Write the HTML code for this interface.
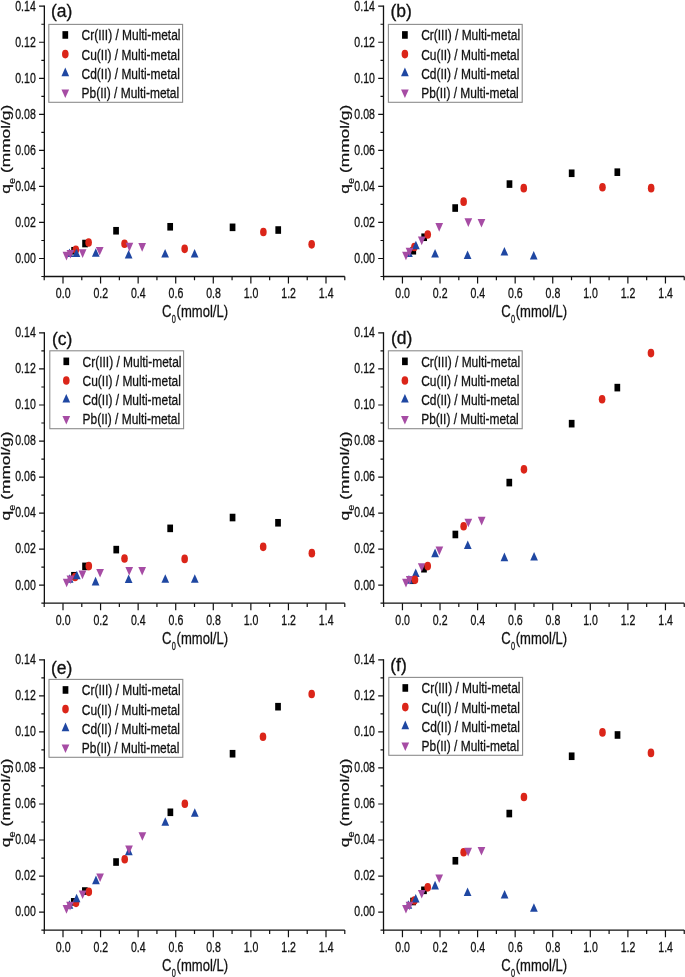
<!DOCTYPE html>
<html><head><meta charset="utf-8"><style>
html,body{margin:0;padding:0;background:#fff;overflow:hidden}
svg{display:block;will-change:transform;filter:blur(0.3px)}
text{font-family:"Liberation Sans",sans-serif;fill:#111;stroke:#111;stroke-width:0.3px}
</style></head><body>
<svg width="685" height="977" viewBox="0 0 685 977">
<rect width="685" height="977" fill="#fff"/>
<path d="M44.35 5.62V276.52H344.79" fill="none" stroke="#111" stroke-width="1.3"/>
<path d="M41.35 276.52H44.35M39.05 258.50H44.35M41.35 240.48H44.35M39.05 222.46H44.35M41.35 204.44H44.35M39.05 186.42H44.35M41.35 168.40H44.35M39.05 150.38H44.35M41.35 132.36H44.35M39.05 114.34H44.35M41.35 96.32H44.35M39.05 78.30H44.35M41.35 60.28H44.35M39.05 42.26H44.35M41.35 24.24H44.35M39.05 6.22H44.35M44.21 276.52V280.32M63.00 276.52V283.62M81.79 276.52V280.32M100.57 276.52V283.62M119.36 276.52V280.32M138.14 276.52V283.62M156.93 276.52V280.32M175.72 276.52V283.62M194.50 276.52V280.32M213.29 276.52V283.62M232.07 276.52V280.32M250.86 276.52V283.62M269.65 276.52V280.32M288.43 276.52V283.62M307.22 276.52V280.32M326.00 276.52V283.62M344.79 276.52V280.32" fill="none" stroke="#111" stroke-width="1.2"/>
<g transform="translate(0.00,0.00)">
<text transform="translate(35.80,262.80) scale(0.705,1)" font-size="15" text-anchor="end">0.00</text>
<text transform="translate(35.80,226.76) scale(0.705,1)" font-size="15" text-anchor="end">0.02</text>
<text transform="translate(35.80,190.72) scale(0.705,1)" font-size="15" text-anchor="end">0.04</text>
<text transform="translate(35.80,154.68) scale(0.705,1)" font-size="15" text-anchor="end">0.06</text>
<text transform="translate(35.80,118.64) scale(0.705,1)" font-size="15" text-anchor="end">0.08</text>
<text transform="translate(35.80,82.60) scale(0.705,1)" font-size="15" text-anchor="end">0.10</text>
<text transform="translate(35.80,46.56) scale(0.705,1)" font-size="15" text-anchor="end">0.12</text>
<text transform="translate(35.80,10.52) scale(0.705,1)" font-size="15" text-anchor="end">0.14</text>
<text transform="translate(63.20,298.30) scale(0.705,1)" font-size="15" text-anchor="middle">0.0</text>
<text transform="translate(100.77,298.30) scale(0.705,1)" font-size="15" text-anchor="middle">0.2</text>
<text transform="translate(138.34,298.30) scale(0.705,1)" font-size="15" text-anchor="middle">0.4</text>
<text transform="translate(175.92,298.30) scale(0.705,1)" font-size="15" text-anchor="middle">0.6</text>
<text transform="translate(213.49,298.30) scale(0.705,1)" font-size="15" text-anchor="middle">0.8</text>
<text transform="translate(251.06,298.30) scale(0.705,1)" font-size="15" text-anchor="middle">1.0</text>
<text transform="translate(288.63,298.30) scale(0.705,1)" font-size="15" text-anchor="middle">1.2</text>
<text transform="translate(326.20,298.30) scale(0.705,1)" font-size="15" text-anchor="middle">1.4</text>
<text transform="translate(162.00,316.90) scale(0.75,1)" font-size="17.4">C</text>
<text transform="translate(171.80,323.20) scale(0.7,1)" font-size="10.5">0</text>
<text transform="translate(176.60,316.90) scale(0.75,1)" font-size="17.4">(mmol/L)</text>
<text transform="translate(9.6,193.7) rotate(-90) scale(1,0.74)" font-size="17.5">q</text>
<text transform="translate(14.5,184.0) rotate(-90) scale(1,0.74)" font-size="11">e</text>
<text transform="translate(9.6,173.0) rotate(-90) scale(1,0.74)" font-size="17.3">(mmol/g)</text>
</g>
<text transform="translate(51.00,16.80) scale(1.0,1)" font-size="17.5">(a)</text>
<g transform="translate(0,0)">
<rect x="48.8" y="24.4" width="133.8" height="77.9" fill="#fff" stroke="#8c8c8c" stroke-width="1.1"/>
<rect x="62.45" y="31.15" width="5.7" height="7.6" fill="#000"/>
<text transform="translate(81.60,40.45) scale(0.797,1)" font-size="15">Cr(III) / Multi-metal</text>
<ellipse cx="65.30" cy="54.10" rx="3.3" ry="4.3" fill="#db2519"/>
<text transform="translate(81.60,59.60) scale(0.797,1)" font-size="15">Cu(II) / Multi-metal</text>
<path d="M65.30 67.55L69.15 76.15L61.45 76.15Z" fill="#1f47a2"/>
<text transform="translate(81.60,78.75) scale(0.797,1)" font-size="15">Cd(II) / Multi-metal</text>
<path d="M61.45 89.50L69.15 89.50L65.30 98.10Z" fill="#a64ca4"/>
<text transform="translate(81.60,97.90) scale(0.797,1)" font-size="15">Pb(II) / Multi-metal</text>
</g>
<rect x="71.26" y="246.95" width="5.7" height="7.6" fill="#000"/>
<rect x="82.21" y="239.74" width="5.7" height="7.6" fill="#000"/>
<rect x="113.21" y="226.95" width="5.7" height="7.6" fill="#000"/>
<rect x="167.33" y="222.98" width="5.7" height="7.6" fill="#000"/>
<rect x="229.71" y="223.53" width="5.7" height="7.6" fill="#000"/>
<rect x="275.37" y="226.23" width="5.7" height="7.6" fill="#000"/>
<ellipse cx="75.85" cy="249.77" rx="3.3" ry="4.3" fill="#db2519"/>
<ellipse cx="88.63" cy="242.56" rx="3.3" ry="4.3" fill="#db2519"/>
<ellipse cx="124.52" cy="243.82" rx="3.3" ry="4.3" fill="#db2519"/>
<ellipse cx="184.65" cy="248.87" rx="3.3" ry="4.3" fill="#db2519"/>
<ellipse cx="263.38" cy="231.93" rx="3.3" ry="4.3" fill="#db2519"/>
<ellipse cx="311.67" cy="244.36" rx="3.3" ry="4.3" fill="#db2519"/>
<path d="M69.46 248.43L73.31 257.03L65.61 257.03Z" fill="#1f47a2"/>
<path d="M76.42 248.43L80.27 257.03L72.57 257.03Z" fill="#1f47a2"/>
<path d="M95.77 248.25L99.62 256.85L91.92 256.85Z" fill="#1f47a2"/>
<path d="M128.65 249.88L132.50 258.48L124.80 258.48Z" fill="#1f47a2"/>
<path d="M165.11 248.97L168.96 257.57L161.26 257.57Z" fill="#1f47a2"/>
<path d="M194.61 248.97L198.46 257.57L190.76 257.57Z" fill="#1f47a2"/>
<path d="M62.61 251.86L70.31 251.86L66.46 260.46Z" fill="#a64ca4"/>
<path d="M66.55 249.88L74.25 249.88L70.40 258.48Z" fill="#a64ca4"/>
<path d="M78.77 249.33L86.47 249.33L82.62 257.93Z" fill="#a64ca4"/>
<path d="M95.87 246.99L103.57 246.99L99.72 255.59Z" fill="#a64ca4"/>
<path d="M125.55 242.85L133.25 242.85L129.40 251.45Z" fill="#a64ca4"/>
<path d="M138.33 243.03L146.03 243.03L142.18 251.63Z" fill="#a64ca4"/>
<path d="M383.5 5.62V276.52H684.24" fill="none" stroke="#111" stroke-width="1.3"/>
<path d="M380.50 276.52H383.5M378.20 258.50H383.5M380.50 240.48H383.5M378.20 222.46H383.5M380.50 204.44H383.5M378.20 186.42H383.5M380.50 168.40H383.5M378.20 150.38H383.5M380.50 132.36H383.5M378.20 114.34H383.5M380.50 96.32H383.5M378.20 78.30H383.5M380.50 60.28H383.5M378.20 42.26H383.5M380.50 24.24H383.5M378.20 6.22H383.5M383.66 276.52V280.32M402.45 276.52V283.62M421.24 276.52V280.32M440.02 276.52V283.62M458.81 276.52V280.32M477.59 276.52V283.62M496.38 276.52V280.32M515.17 276.52V283.62M533.95 276.52V280.32M552.74 276.52V283.62M571.52 276.52V280.32M590.31 276.52V283.62M609.10 276.52V280.32M627.88 276.52V283.62M646.67 276.52V280.32M665.45 276.52V283.62M684.24 276.52V280.32" fill="none" stroke="#111" stroke-width="1.2"/>
<g transform="translate(339.15,0.00)">
<text transform="translate(35.80,262.80) scale(0.705,1)" font-size="15" text-anchor="end">0.00</text>
<text transform="translate(35.80,226.76) scale(0.705,1)" font-size="15" text-anchor="end">0.02</text>
<text transform="translate(35.80,190.72) scale(0.705,1)" font-size="15" text-anchor="end">0.04</text>
<text transform="translate(35.80,154.68) scale(0.705,1)" font-size="15" text-anchor="end">0.06</text>
<text transform="translate(35.80,118.64) scale(0.705,1)" font-size="15" text-anchor="end">0.08</text>
<text transform="translate(35.80,82.60) scale(0.705,1)" font-size="15" text-anchor="end">0.10</text>
<text transform="translate(35.80,46.56) scale(0.705,1)" font-size="15" text-anchor="end">0.12</text>
<text transform="translate(35.80,10.52) scale(0.705,1)" font-size="15" text-anchor="end">0.14</text>
<text transform="translate(63.50,298.30) scale(0.705,1)" font-size="15" text-anchor="middle">0.0</text>
<text transform="translate(101.07,298.30) scale(0.705,1)" font-size="15" text-anchor="middle">0.2</text>
<text transform="translate(138.64,298.30) scale(0.705,1)" font-size="15" text-anchor="middle">0.4</text>
<text transform="translate(176.22,298.30) scale(0.705,1)" font-size="15" text-anchor="middle">0.6</text>
<text transform="translate(213.79,298.30) scale(0.705,1)" font-size="15" text-anchor="middle">0.8</text>
<text transform="translate(251.36,298.30) scale(0.705,1)" font-size="15" text-anchor="middle">1.0</text>
<text transform="translate(288.93,298.30) scale(0.705,1)" font-size="15" text-anchor="middle">1.2</text>
<text transform="translate(326.50,298.30) scale(0.705,1)" font-size="15" text-anchor="middle">1.4</text>
<text transform="translate(162.00,316.90) scale(0.75,1)" font-size="17.4">C</text>
<text transform="translate(171.80,323.20) scale(0.7,1)" font-size="10.5">0</text>
<text transform="translate(176.60,316.90) scale(0.75,1)" font-size="17.4">(mmol/L)</text>
<text transform="translate(9.6,193.7) rotate(-90) scale(1,0.74)" font-size="17.5">q</text>
<text transform="translate(14.5,184.0) rotate(-90) scale(1,0.74)" font-size="11">e</text>
<text transform="translate(9.6,173.0) rotate(-90) scale(1,0.74)" font-size="17.3">(mmol/g)</text>
</g>
<text transform="translate(390.40,17.00) scale(1.0,1)" font-size="17.5">(b)</text>
<g transform="translate(339.6,0.0)">
<rect x="48.8" y="24.4" width="133.8" height="77.9" fill="#fff" stroke="#8c8c8c" stroke-width="1.1"/>
<rect x="62.45" y="31.15" width="5.7" height="7.6" fill="#000"/>
<text transform="translate(81.60,40.45) scale(0.797,1)" font-size="15">Cr(III) / Multi-metal</text>
<ellipse cx="65.30" cy="54.10" rx="3.3" ry="4.3" fill="#db2519"/>
<text transform="translate(81.60,59.60) scale(0.797,1)" font-size="15">Cu(II) / Multi-metal</text>
<path d="M65.30 67.55L69.15 76.15L61.45 76.15Z" fill="#1f47a2"/>
<text transform="translate(81.60,78.75) scale(0.797,1)" font-size="15">Cd(II) / Multi-metal</text>
<path d="M61.45 89.50L69.15 89.50L65.30 98.10Z" fill="#a64ca4"/>
<text transform="translate(81.60,97.90) scale(0.797,1)" font-size="15">Pb(II) / Multi-metal</text>
</g>
<rect x="410.42" y="246.95" width="5.7" height="7.6" fill="#000"/>
<rect x="421.32" y="233.44" width="5.7" height="7.6" fill="#000"/>
<rect x="452.33" y="204.24" width="5.7" height="7.6" fill="#000"/>
<rect x="506.63" y="180.28" width="5.7" height="7.6" fill="#000"/>
<rect x="568.82" y="169.47" width="5.7" height="7.6" fill="#000"/>
<rect x="614.48" y="168.38" width="5.7" height="7.6" fill="#000"/>
<ellipse cx="414.40" cy="247.07" rx="3.3" ry="4.3" fill="#db2519"/>
<ellipse cx="427.74" cy="234.45" rx="3.3" ry="4.3" fill="#db2519"/>
<ellipse cx="463.63" cy="201.66" rx="3.3" ry="4.3" fill="#db2519"/>
<ellipse cx="523.76" cy="188.14" rx="3.3" ry="4.3" fill="#db2519"/>
<ellipse cx="602.49" cy="187.24" rx="3.3" ry="4.3" fill="#db2519"/>
<ellipse cx="651.16" cy="188.14" rx="3.3" ry="4.3" fill="#db2519"/>
<path d="M408.95 248.43L412.80 257.03L405.10 257.03Z" fill="#1f47a2"/>
<path d="M415.90 240.69L419.75 249.29L412.05 249.29Z" fill="#1f47a2"/>
<path d="M435.07 248.97L438.92 257.57L431.22 257.57Z" fill="#1f47a2"/>
<path d="M467.58 250.42L471.43 259.02L463.73 259.02Z" fill="#1f47a2"/>
<path d="M504.41 246.99L508.26 255.59L500.56 255.59Z" fill="#1f47a2"/>
<path d="M533.72 250.96L537.57 259.56L529.87 259.56Z" fill="#1f47a2"/>
<path d="M402.10 251.68L409.80 251.68L405.95 260.28Z" fill="#a64ca4"/>
<path d="M405.67 247.71L413.37 247.71L409.52 256.31Z" fill="#a64ca4"/>
<path d="M417.88 236.54L425.58 236.54L421.73 245.14Z" fill="#a64ca4"/>
<path d="M435.35 223.03L443.05 223.03L439.20 231.63Z" fill="#a64ca4"/>
<path d="M464.48 218.34L472.18 218.34L468.33 226.94Z" fill="#a64ca4"/>
<path d="M477.63 218.88L485.33 218.88L481.48 227.48Z" fill="#a64ca4"/>
<path d="M44.35 332.32V603.22H344.79" fill="none" stroke="#111" stroke-width="1.3"/>
<path d="M41.35 603.22H44.35M39.05 585.20H44.35M41.35 567.18H44.35M39.05 549.16H44.35M41.35 531.14H44.35M39.05 513.12H44.35M41.35 495.10H44.35M39.05 477.08H44.35M41.35 459.06H44.35M39.05 441.04H44.35M41.35 423.02H44.35M39.05 405.00H44.35M41.35 386.98H44.35M39.05 368.96H44.35M41.35 350.94H44.35M39.05 332.92H44.35M44.21 603.22V607.02M63.00 603.22V610.32M81.79 603.22V607.02M100.57 603.22V610.32M119.36 603.22V607.02M138.14 603.22V610.32M156.93 603.22V607.02M175.72 603.22V610.32M194.50 603.22V607.02M213.29 603.22V610.32M232.07 603.22V607.02M250.86 603.22V610.32M269.65 603.22V607.02M288.43 603.22V610.32M307.22 603.22V607.02M326.00 603.22V610.32M344.79 603.22V607.02" fill="none" stroke="#111" stroke-width="1.2"/>
<g transform="translate(0.00,326.70)">
<text transform="translate(35.80,262.80) scale(0.705,1)" font-size="15" text-anchor="end">0.00</text>
<text transform="translate(35.80,226.76) scale(0.705,1)" font-size="15" text-anchor="end">0.02</text>
<text transform="translate(35.80,190.72) scale(0.705,1)" font-size="15" text-anchor="end">0.04</text>
<text transform="translate(35.80,154.68) scale(0.705,1)" font-size="15" text-anchor="end">0.06</text>
<text transform="translate(35.80,118.64) scale(0.705,1)" font-size="15" text-anchor="end">0.08</text>
<text transform="translate(35.80,82.60) scale(0.705,1)" font-size="15" text-anchor="end">0.10</text>
<text transform="translate(35.80,46.56) scale(0.705,1)" font-size="15" text-anchor="end">0.12</text>
<text transform="translate(35.80,10.52) scale(0.705,1)" font-size="15" text-anchor="end">0.14</text>
<text transform="translate(63.20,298.30) scale(0.705,1)" font-size="15" text-anchor="middle">0.0</text>
<text transform="translate(100.77,298.30) scale(0.705,1)" font-size="15" text-anchor="middle">0.2</text>
<text transform="translate(138.34,298.30) scale(0.705,1)" font-size="15" text-anchor="middle">0.4</text>
<text transform="translate(175.92,298.30) scale(0.705,1)" font-size="15" text-anchor="middle">0.6</text>
<text transform="translate(213.49,298.30) scale(0.705,1)" font-size="15" text-anchor="middle">0.8</text>
<text transform="translate(251.06,298.30) scale(0.705,1)" font-size="15" text-anchor="middle">1.0</text>
<text transform="translate(288.63,298.30) scale(0.705,1)" font-size="15" text-anchor="middle">1.2</text>
<text transform="translate(326.20,298.30) scale(0.705,1)" font-size="15" text-anchor="middle">1.4</text>
<text transform="translate(162.00,316.90) scale(0.75,1)" font-size="17.4">C</text>
<text transform="translate(171.80,323.20) scale(0.7,1)" font-size="10.5">0</text>
<text transform="translate(176.60,316.90) scale(0.75,1)" font-size="17.4">(mmol/L)</text>
<text transform="translate(9.6,193.7) rotate(-90) scale(1,0.74)" font-size="17.5">q</text>
<text transform="translate(14.5,184.0) rotate(-90) scale(1,0.74)" font-size="11">e</text>
<text transform="translate(9.6,173.0) rotate(-90) scale(1,0.74)" font-size="17.3">(mmol/g)</text>
</g>
<text transform="translate(52.00,344.70) scale(1.0,1)" font-size="17.5">(c)</text>
<g transform="translate(1.0,326.4)">
<rect x="48.8" y="24.4" width="133.8" height="77.9" fill="#fff" stroke="#8c8c8c" stroke-width="1.1"/>
<rect x="62.45" y="31.15" width="5.7" height="7.6" fill="#000"/>
<text transform="translate(81.60,40.45) scale(0.797,1)" font-size="15">Cr(III) / Multi-metal</text>
<ellipse cx="65.30" cy="54.10" rx="3.3" ry="4.3" fill="#db2519"/>
<text transform="translate(81.60,59.60) scale(0.797,1)" font-size="15">Cu(II) / Multi-metal</text>
<path d="M65.30 67.55L69.15 76.15L61.45 76.15Z" fill="#1f47a2"/>
<text transform="translate(81.60,78.75) scale(0.797,1)" font-size="15">Cd(II) / Multi-metal</text>
<path d="M61.45 89.50L69.15 89.50L65.30 98.10Z" fill="#a64ca4"/>
<text transform="translate(81.60,97.90) scale(0.797,1)" font-size="15">Pb(II) / Multi-metal</text>
</g>
<rect x="71.12" y="571.95" width="5.7" height="7.6" fill="#000"/>
<rect x="82.21" y="562.58" width="5.7" height="7.6" fill="#000"/>
<rect x="113.40" y="545.82" width="5.7" height="7.6" fill="#000"/>
<rect x="167.33" y="524.56" width="5.7" height="7.6" fill="#000"/>
<rect x="229.71" y="513.74" width="5.7" height="7.6" fill="#000"/>
<rect x="275.18" y="518.97" width="5.7" height="7.6" fill="#000"/>
<ellipse cx="75.10" cy="576.93" rx="3.3" ry="4.3" fill="#db2519"/>
<ellipse cx="88.82" cy="566.12" rx="3.3" ry="4.3" fill="#db2519"/>
<ellipse cx="124.52" cy="558.55" rx="3.3" ry="4.3" fill="#db2519"/>
<ellipse cx="184.65" cy="558.91" rx="3.3" ry="4.3" fill="#db2519"/>
<ellipse cx="263.19" cy="546.84" rx="3.3" ry="4.3" fill="#db2519"/>
<ellipse cx="311.86" cy="553.14" rx="3.3" ry="4.3" fill="#db2519"/>
<path d="M69.65 574.15L73.50 582.75L65.80 582.75Z" fill="#1f47a2"/>
<path d="M76.79 570.73L80.64 579.33L72.94 579.33Z" fill="#1f47a2"/>
<path d="M95.58 576.86L99.43 585.46L91.73 585.46Z" fill="#1f47a2"/>
<path d="M128.65 574.51L132.50 583.11L124.80 583.11Z" fill="#1f47a2"/>
<path d="M165.29 574.15L169.14 582.75L161.44 582.75Z" fill="#1f47a2"/>
<path d="M194.79 574.15L198.64 582.75L190.94 582.75Z" fill="#1f47a2"/>
<path d="M62.80 578.66L70.50 578.66L66.65 587.26Z" fill="#a64ca4"/>
<path d="M66.55 575.41L74.25 575.41L70.40 584.01Z" fill="#a64ca4"/>
<path d="M78.58 570.55L86.28 570.55L82.43 579.15Z" fill="#a64ca4"/>
<path d="M96.24 568.93L103.94 568.93L100.09 577.53Z" fill="#a64ca4"/>
<path d="M125.37 566.94L133.07 566.94L129.22 575.54Z" fill="#a64ca4"/>
<path d="M138.33 566.94L146.03 566.94L142.18 575.54Z" fill="#a64ca4"/>
<path d="M383.5 332.32V603.22H684.24" fill="none" stroke="#111" stroke-width="1.3"/>
<path d="M380.50 603.22H383.5M378.20 585.20H383.5M380.50 567.18H383.5M378.20 549.16H383.5M380.50 531.14H383.5M378.20 513.12H383.5M380.50 495.10H383.5M378.20 477.08H383.5M380.50 459.06H383.5M378.20 441.04H383.5M380.50 423.02H383.5M378.20 405.00H383.5M380.50 386.98H383.5M378.20 368.96H383.5M380.50 350.94H383.5M378.20 332.92H383.5M383.66 603.22V607.02M402.45 603.22V610.32M421.24 603.22V607.02M440.02 603.22V610.32M458.81 603.22V607.02M477.59 603.22V610.32M496.38 603.22V607.02M515.17 603.22V610.32M533.95 603.22V607.02M552.74 603.22V610.32M571.52 603.22V607.02M590.31 603.22V610.32M609.10 603.22V607.02M627.88 603.22V610.32M646.67 603.22V607.02M665.45 603.22V610.32M684.24 603.22V607.02" fill="none" stroke="#111" stroke-width="1.2"/>
<g transform="translate(339.15,326.70)">
<text transform="translate(35.80,262.80) scale(0.705,1)" font-size="15" text-anchor="end">0.00</text>
<text transform="translate(35.80,226.76) scale(0.705,1)" font-size="15" text-anchor="end">0.02</text>
<text transform="translate(35.80,190.72) scale(0.705,1)" font-size="15" text-anchor="end">0.04</text>
<text transform="translate(35.80,154.68) scale(0.705,1)" font-size="15" text-anchor="end">0.06</text>
<text transform="translate(35.80,118.64) scale(0.705,1)" font-size="15" text-anchor="end">0.08</text>
<text transform="translate(35.80,82.60) scale(0.705,1)" font-size="15" text-anchor="end">0.10</text>
<text transform="translate(35.80,46.56) scale(0.705,1)" font-size="15" text-anchor="end">0.12</text>
<text transform="translate(35.80,10.52) scale(0.705,1)" font-size="15" text-anchor="end">0.14</text>
<text transform="translate(63.50,298.30) scale(0.705,1)" font-size="15" text-anchor="middle">0.0</text>
<text transform="translate(101.07,298.30) scale(0.705,1)" font-size="15" text-anchor="middle">0.2</text>
<text transform="translate(138.64,298.30) scale(0.705,1)" font-size="15" text-anchor="middle">0.4</text>
<text transform="translate(176.22,298.30) scale(0.705,1)" font-size="15" text-anchor="middle">0.6</text>
<text transform="translate(213.79,298.30) scale(0.705,1)" font-size="15" text-anchor="middle">0.8</text>
<text transform="translate(251.36,298.30) scale(0.705,1)" font-size="15" text-anchor="middle">1.0</text>
<text transform="translate(288.93,298.30) scale(0.705,1)" font-size="15" text-anchor="middle">1.2</text>
<text transform="translate(326.50,298.30) scale(0.705,1)" font-size="15" text-anchor="middle">1.4</text>
<text transform="translate(162.00,316.90) scale(0.75,1)" font-size="17.4">C</text>
<text transform="translate(171.80,323.20) scale(0.7,1)" font-size="10.5">0</text>
<text transform="translate(176.60,316.90) scale(0.75,1)" font-size="17.4">(mmol/L)</text>
<text transform="translate(9.6,193.7) rotate(-90) scale(1,0.74)" font-size="17.5">q</text>
<text transform="translate(14.5,184.0) rotate(-90) scale(1,0.74)" font-size="11">e</text>
<text transform="translate(9.6,173.0) rotate(-90) scale(1,0.74)" font-size="17.3">(mmol/g)</text>
</g>
<text transform="translate(391.00,343.90) scale(1.0,1)" font-size="17.5">(d)</text>
<g transform="translate(339.6,326.4)">
<rect x="48.8" y="24.4" width="133.8" height="77.9" fill="#fff" stroke="#8c8c8c" stroke-width="1.1"/>
<rect x="62.45" y="31.15" width="5.7" height="7.6" fill="#000"/>
<text transform="translate(81.60,40.45) scale(0.797,1)" font-size="15">Cr(III) / Multi-metal</text>
<ellipse cx="65.30" cy="54.10" rx="3.3" ry="4.3" fill="#db2519"/>
<text transform="translate(81.60,59.60) scale(0.797,1)" font-size="15">Cu(II) / Multi-metal</text>
<path d="M65.30 67.55L69.15 76.15L61.45 76.15Z" fill="#1f47a2"/>
<text transform="translate(81.60,78.75) scale(0.797,1)" font-size="15">Cd(II) / Multi-metal</text>
<path d="M61.45 89.50L69.15 89.50L65.30 98.10Z" fill="#a64ca4"/>
<text transform="translate(81.60,97.90) scale(0.797,1)" font-size="15">Pb(II) / Multi-metal</text>
</g>
<rect x="409.86" y="576.45" width="5.7" height="7.6" fill="#000"/>
<rect x="421.13" y="564.92" width="5.7" height="7.6" fill="#000"/>
<rect x="452.51" y="530.68" width="5.7" height="7.6" fill="#000"/>
<rect x="506.44" y="478.79" width="5.7" height="7.6" fill="#000"/>
<rect x="568.82" y="419.86" width="5.7" height="7.6" fill="#000"/>
<rect x="614.48" y="383.82" width="5.7" height="7.6" fill="#000"/>
<path d="M408.95 575.05L412.80 583.65L405.10 583.65Z" fill="#1f47a2"/>
<path d="M415.72 568.39L419.57 576.99L411.87 576.99Z" fill="#1f47a2"/>
<path d="M435.07 548.56L438.92 557.16L431.22 557.16Z" fill="#1f47a2"/>
<path d="M467.76 540.46L471.62 549.06L463.91 549.06Z" fill="#1f47a2"/>
<path d="M504.41 552.53L508.26 561.13L500.56 561.13Z" fill="#1f47a2"/>
<path d="M534.09 551.99L537.94 560.59L530.24 560.59Z" fill="#1f47a2"/>
<path d="M402.10 578.84L409.80 578.84L405.95 587.44Z" fill="#a64ca4"/>
<path d="M405.85 575.95L413.55 575.95L409.70 584.55Z" fill="#a64ca4"/>
<path d="M417.88 563.16L425.58 563.16L421.73 571.76Z" fill="#a64ca4"/>
<path d="M435.54 546.58L443.24 546.58L439.39 555.18Z" fill="#a64ca4"/>
<path d="M464.48 518.65L472.18 518.65L468.33 527.25Z" fill="#a64ca4"/>
<path d="M477.82 516.85L485.52 516.85L481.67 525.45Z" fill="#a64ca4"/>
<ellipse cx="414.97" cy="579.81" rx="3.3" ry="4.3" fill="#db2519"/>
<ellipse cx="427.74" cy="566.12" rx="3.3" ry="4.3" fill="#db2519"/>
<ellipse cx="463.63" cy="526.29" rx="3.3" ry="4.3" fill="#db2519"/>
<ellipse cx="523.95" cy="469.35" rx="3.3" ry="4.3" fill="#db2519"/>
<ellipse cx="602.11" cy="399.25" rx="3.3" ry="4.3" fill="#db2519"/>
<ellipse cx="650.97" cy="353.12" rx="3.3" ry="4.3" fill="#db2519"/>
<path d="M44.35 659.22V930.12H344.79" fill="none" stroke="#111" stroke-width="1.3"/>
<path d="M41.35 930.12H44.35M39.05 912.10H44.35M41.35 894.08H44.35M39.05 876.06H44.35M41.35 858.04H44.35M39.05 840.02H44.35M41.35 822.00H44.35M39.05 803.98H44.35M41.35 785.96H44.35M39.05 767.94H44.35M41.35 749.92H44.35M39.05 731.90H44.35M41.35 713.88H44.35M39.05 695.86H44.35M41.35 677.84H44.35M39.05 659.82H44.35M44.21 930.12V933.92M63.00 930.12V937.22M81.79 930.12V933.92M100.57 930.12V937.22M119.36 930.12V933.92M138.14 930.12V937.22M156.93 930.12V933.92M175.72 930.12V937.22M194.50 930.12V933.92M213.29 930.12V937.22M232.07 930.12V933.92M250.86 930.12V937.22M269.65 930.12V933.92M288.43 930.12V937.22M307.22 930.12V933.92M326.00 930.12V937.22M344.79 930.12V933.92" fill="none" stroke="#111" stroke-width="1.2"/>
<g transform="translate(0.00,653.60)">
<text transform="translate(35.80,262.80) scale(0.705,1)" font-size="15" text-anchor="end">0.00</text>
<text transform="translate(35.80,226.76) scale(0.705,1)" font-size="15" text-anchor="end">0.02</text>
<text transform="translate(35.80,190.72) scale(0.705,1)" font-size="15" text-anchor="end">0.04</text>
<text transform="translate(35.80,154.68) scale(0.705,1)" font-size="15" text-anchor="end">0.06</text>
<text transform="translate(35.80,118.64) scale(0.705,1)" font-size="15" text-anchor="end">0.08</text>
<text transform="translate(35.80,82.60) scale(0.705,1)" font-size="15" text-anchor="end">0.10</text>
<text transform="translate(35.80,46.56) scale(0.705,1)" font-size="15" text-anchor="end">0.12</text>
<text transform="translate(35.80,10.52) scale(0.705,1)" font-size="15" text-anchor="end">0.14</text>
<text transform="translate(63.20,298.30) scale(0.705,1)" font-size="15" text-anchor="middle">0.0</text>
<text transform="translate(100.77,298.30) scale(0.705,1)" font-size="15" text-anchor="middle">0.2</text>
<text transform="translate(138.34,298.30) scale(0.705,1)" font-size="15" text-anchor="middle">0.4</text>
<text transform="translate(175.92,298.30) scale(0.705,1)" font-size="15" text-anchor="middle">0.6</text>
<text transform="translate(213.49,298.30) scale(0.705,1)" font-size="15" text-anchor="middle">0.8</text>
<text transform="translate(251.06,298.30) scale(0.705,1)" font-size="15" text-anchor="middle">1.0</text>
<text transform="translate(288.63,298.30) scale(0.705,1)" font-size="15" text-anchor="middle">1.2</text>
<text transform="translate(326.20,298.30) scale(0.705,1)" font-size="15" text-anchor="middle">1.4</text>
<text transform="translate(162.00,316.90) scale(0.75,1)" font-size="17.4">C</text>
<text transform="translate(171.80,323.20) scale(0.7,1)" font-size="10.5">0</text>
<text transform="translate(176.60,316.90) scale(0.75,1)" font-size="17.4">(mmol/L)</text>
<text transform="translate(9.6,193.7) rotate(-90) scale(1,0.74)" font-size="17.5">q</text>
<text transform="translate(14.5,184.0) rotate(-90) scale(1,0.74)" font-size="11">e</text>
<text transform="translate(9.6,173.0) rotate(-90) scale(1,0.74)" font-size="17.3">(mmol/g)</text>
</g>
<text transform="translate(51.00,673.60) scale(1.0,1)" font-size="17.5">(e)</text>
<g transform="translate(0.2,655.0)">
<rect x="48.8" y="24.4" width="133.8" height="77.9" fill="#fff" stroke="#8c8c8c" stroke-width="1.1"/>
<rect x="62.45" y="31.15" width="5.7" height="7.6" fill="#000"/>
<text transform="translate(81.60,40.45) scale(0.797,1)" font-size="15">Cr(III) / Multi-metal</text>
<ellipse cx="65.30" cy="54.10" rx="3.3" ry="4.3" fill="#db2519"/>
<text transform="translate(81.60,59.60) scale(0.797,1)" font-size="15">Cu(II) / Multi-metal</text>
<path d="M65.30 67.55L69.15 76.15L61.45 76.15Z" fill="#1f47a2"/>
<text transform="translate(81.60,78.75) scale(0.797,1)" font-size="15">Cd(II) / Multi-metal</text>
<path d="M61.45 89.50L69.15 89.50L65.30 98.10Z" fill="#a64ca4"/>
<text transform="translate(81.60,97.90) scale(0.797,1)" font-size="15">Pb(II) / Multi-metal</text>
</g>
<rect x="70.94" y="898.05" width="5.7" height="7.6" fill="#000"/>
<rect x="82.02" y="887.24" width="5.7" height="7.6" fill="#000"/>
<rect x="113.21" y="858.22" width="5.7" height="7.6" fill="#000"/>
<rect x="167.52" y="808.49" width="5.7" height="7.6" fill="#000"/>
<rect x="229.71" y="749.92" width="5.7" height="7.6" fill="#000"/>
<rect x="275.18" y="702.89" width="5.7" height="7.6" fill="#000"/>
<ellipse cx="76.04" cy="902.85" rx="3.3" ry="4.3" fill="#db2519"/>
<ellipse cx="88.82" cy="891.86" rx="3.3" ry="4.3" fill="#db2519"/>
<ellipse cx="124.71" cy="859.24" rx="3.3" ry="4.3" fill="#db2519"/>
<ellipse cx="184.84" cy="803.74" rx="3.3" ry="4.3" fill="#db2519"/>
<ellipse cx="263.00" cy="736.70" rx="3.3" ry="4.3" fill="#db2519"/>
<ellipse cx="311.67" cy="694.00" rx="3.3" ry="4.3" fill="#db2519"/>
<path d="M69.46 900.25L73.31 908.85L65.61 908.85Z" fill="#1f47a2"/>
<path d="M76.60 893.76L80.45 902.36L72.75 902.36Z" fill="#1f47a2"/>
<path d="M95.96 875.56L99.81 884.16L92.11 884.16Z" fill="#1f47a2"/>
<path d="M128.84 846.55L132.69 855.15L124.99 855.15Z" fill="#1f47a2"/>
<path d="M165.29 817.18L169.14 825.78L161.44 825.78Z" fill="#1f47a2"/>
<path d="M194.79 808.17L198.64 816.77L190.94 816.77Z" fill="#1f47a2"/>
<path d="M62.61 905.12L70.31 905.12L66.46 913.72Z" fill="#a64ca4"/>
<path d="M66.18 901.87L73.88 901.87L70.03 910.47Z" fill="#a64ca4"/>
<path d="M78.77 890.52L86.47 890.52L82.62 899.12Z" fill="#a64ca4"/>
<path d="M96.24 873.40L103.94 873.40L100.09 882.00Z" fill="#a64ca4"/>
<path d="M125.18 845.47L132.88 845.47L129.03 854.07Z" fill="#a64ca4"/>
<path d="M138.52 832.14L146.22 832.14L142.37 840.74Z" fill="#a64ca4"/>
<path d="M383.5 659.22V930.12H684.24" fill="none" stroke="#111" stroke-width="1.3"/>
<path d="M380.50 930.12H383.5M378.20 912.10H383.5M380.50 894.08H383.5M378.20 876.06H383.5M380.50 858.04H383.5M378.20 840.02H383.5M380.50 822.00H383.5M378.20 803.98H383.5M380.50 785.96H383.5M378.20 767.94H383.5M380.50 749.92H383.5M378.20 731.90H383.5M380.50 713.88H383.5M378.20 695.86H383.5M380.50 677.84H383.5M378.20 659.82H383.5M383.66 930.12V933.92M402.45 930.12V937.22M421.24 930.12V933.92M440.02 930.12V937.22M458.81 930.12V933.92M477.59 930.12V937.22M496.38 930.12V933.92M515.17 930.12V937.22M533.95 930.12V933.92M552.74 930.12V937.22M571.52 930.12V933.92M590.31 930.12V937.22M609.10 930.12V933.92M627.88 930.12V937.22M646.67 930.12V933.92M665.45 930.12V937.22M684.24 930.12V933.92" fill="none" stroke="#111" stroke-width="1.2"/>
<g transform="translate(339.15,653.60)">
<text transform="translate(35.80,262.80) scale(0.705,1)" font-size="15" text-anchor="end">0.00</text>
<text transform="translate(35.80,226.76) scale(0.705,1)" font-size="15" text-anchor="end">0.02</text>
<text transform="translate(35.80,190.72) scale(0.705,1)" font-size="15" text-anchor="end">0.04</text>
<text transform="translate(35.80,154.68) scale(0.705,1)" font-size="15" text-anchor="end">0.06</text>
<text transform="translate(35.80,118.64) scale(0.705,1)" font-size="15" text-anchor="end">0.08</text>
<text transform="translate(35.80,82.60) scale(0.705,1)" font-size="15" text-anchor="end">0.10</text>
<text transform="translate(35.80,46.56) scale(0.705,1)" font-size="15" text-anchor="end">0.12</text>
<text transform="translate(35.80,10.52) scale(0.705,1)" font-size="15" text-anchor="end">0.14</text>
<text transform="translate(63.50,298.30) scale(0.705,1)" font-size="15" text-anchor="middle">0.0</text>
<text transform="translate(101.07,298.30) scale(0.705,1)" font-size="15" text-anchor="middle">0.2</text>
<text transform="translate(138.64,298.30) scale(0.705,1)" font-size="15" text-anchor="middle">0.4</text>
<text transform="translate(176.22,298.30) scale(0.705,1)" font-size="15" text-anchor="middle">0.6</text>
<text transform="translate(213.79,298.30) scale(0.705,1)" font-size="15" text-anchor="middle">0.8</text>
<text transform="translate(251.36,298.30) scale(0.705,1)" font-size="15" text-anchor="middle">1.0</text>
<text transform="translate(288.93,298.30) scale(0.705,1)" font-size="15" text-anchor="middle">1.2</text>
<text transform="translate(326.50,298.30) scale(0.705,1)" font-size="15" text-anchor="middle">1.4</text>
<text transform="translate(162.00,316.90) scale(0.75,1)" font-size="17.4">C</text>
<text transform="translate(171.80,323.20) scale(0.7,1)" font-size="10.5">0</text>
<text transform="translate(176.60,316.90) scale(0.75,1)" font-size="17.4">(mmol/L)</text>
<text transform="translate(9.6,193.7) rotate(-90) scale(1,0.74)" font-size="17.5">q</text>
<text transform="translate(14.5,184.0) rotate(-90) scale(1,0.74)" font-size="11">e</text>
<text transform="translate(9.6,173.0) rotate(-90) scale(1,0.74)" font-size="17.3">(mmol/g)</text>
</g>
<text transform="translate(390.20,670.90) scale(1.0,1)" font-size="17.5">(f)</text>
<g transform="translate(340.0,653.0)">
<rect x="48.8" y="24.4" width="133.8" height="77.9" fill="#fff" stroke="#8c8c8c" stroke-width="1.1"/>
<rect x="62.45" y="31.15" width="5.7" height="7.6" fill="#000"/>
<text transform="translate(81.60,40.45) scale(0.797,1)" font-size="15">Cr(III) / Multi-metal</text>
<ellipse cx="65.30" cy="54.10" rx="3.3" ry="4.3" fill="#db2519"/>
<text transform="translate(81.60,59.60) scale(0.797,1)" font-size="15">Cu(II) / Multi-metal</text>
<path d="M65.30 67.55L69.15 76.15L61.45 76.15Z" fill="#1f47a2"/>
<text transform="translate(81.60,78.75) scale(0.797,1)" font-size="15">Cd(II) / Multi-metal</text>
<path d="M61.45 89.50L69.15 89.50L65.30 98.10Z" fill="#a64ca4"/>
<text transform="translate(81.60,97.90) scale(0.797,1)" font-size="15">Pb(II) / Multi-metal</text>
</g>
<rect x="410.24" y="897.69" width="5.7" height="7.6" fill="#000"/>
<rect x="421.13" y="886.52" width="5.7" height="7.6" fill="#000"/>
<rect x="452.51" y="856.96" width="5.7" height="7.6" fill="#000"/>
<rect x="506.44" y="809.75" width="5.7" height="7.6" fill="#000"/>
<rect x="568.82" y="752.45" width="5.7" height="7.6" fill="#000"/>
<rect x="614.67" y="731.18" width="5.7" height="7.6" fill="#000"/>
<ellipse cx="414.40" cy="900.51" rx="3.3" ry="4.3" fill="#db2519"/>
<ellipse cx="427.74" cy="887.35" rx="3.3" ry="4.3" fill="#db2519"/>
<ellipse cx="463.63" cy="852.21" rx="3.3" ry="4.3" fill="#db2519"/>
<ellipse cx="523.95" cy="797.07" rx="3.3" ry="4.3" fill="#db2519"/>
<ellipse cx="602.49" cy="732.38" rx="3.3" ry="4.3" fill="#db2519"/>
<ellipse cx="650.97" cy="752.92" rx="3.3" ry="4.3" fill="#db2519"/>
<path d="M408.39 900.25L412.24 908.85L404.54 908.85Z" fill="#1f47a2"/>
<path d="M415.72 893.94L419.57 902.54L411.87 902.54Z" fill="#1f47a2"/>
<path d="M435.07 880.79L438.92 889.39L431.22 889.39Z" fill="#1f47a2"/>
<path d="M467.58 887.46L471.43 896.06L463.73 896.06Z" fill="#1f47a2"/>
<path d="M504.59 889.98L508.44 898.58L500.74 898.58Z" fill="#1f47a2"/>
<path d="M533.91 903.13L537.76 911.73L530.06 911.73Z" fill="#1f47a2"/>
<path d="M402.10 904.94L409.80 904.94L405.95 913.54Z" fill="#a64ca4"/>
<path d="M405.67 901.69L413.37 901.69L409.52 910.29Z" fill="#a64ca4"/>
<path d="M417.88 889.98L425.58 889.98L421.73 898.58Z" fill="#a64ca4"/>
<path d="M435.35 874.48L443.05 874.48L439.20 883.08Z" fill="#a64ca4"/>
<path d="M464.29 847.81L471.99 847.81L468.14 856.41Z" fill="#a64ca4"/>
<path d="M477.63 846.91L485.33 846.91L481.48 855.51Z" fill="#a64ca4"/>
</svg></body></html>
